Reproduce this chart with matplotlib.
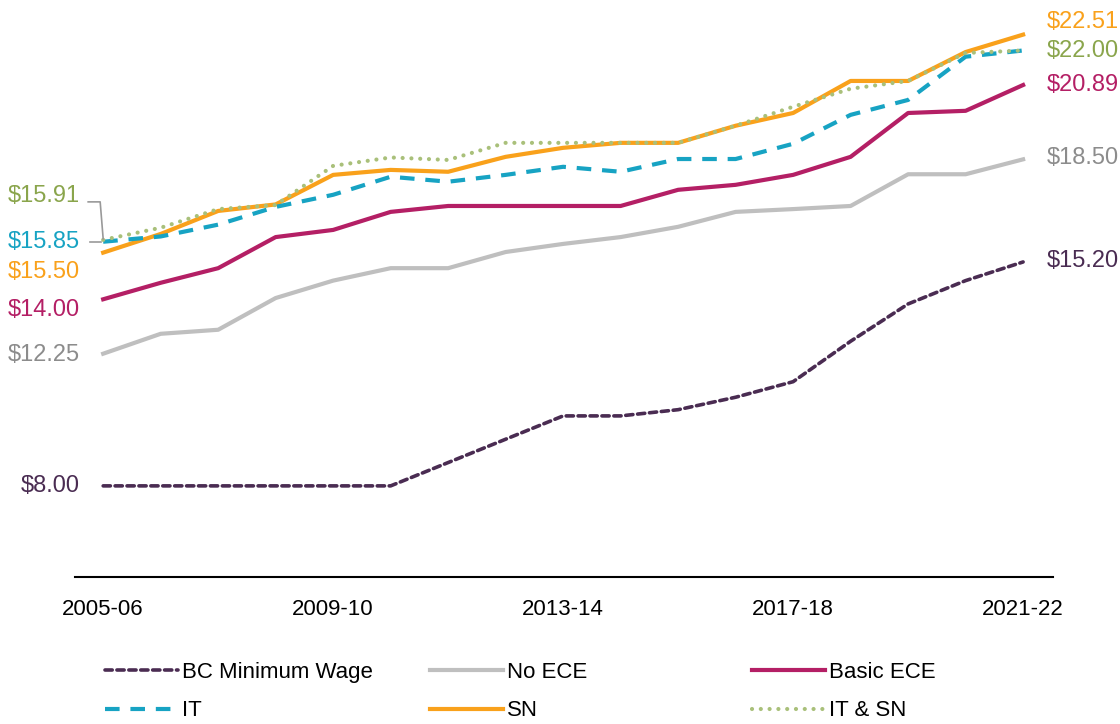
import numpy as np
import matplotlib.pyplot as plt
from matplotlib import font_manager

names = {f.name for f in font_manager.fontManager.ttflist}
fam = 'Liberation Sans Narrow' if 'Liberation Sans Narrow' in names else 'Liberation Sans'
plt.rcParams['font.family'] = [fam, 'DejaVu Sans']

years = ['2005-06', '2006-07', '2007-08', '2008-09', '2009-10', '2010-11', '2011-12',
         '2012-13', '2013-14', '2014-15', '2015-16', '2016-17', '2017-18', '2018-19',
         '2019-20', '2020-21', '2021-22']
min_wage = [8.00, 8.00, 8.00, 8.00, 8.00, 8.00, 8.75, 9.50, 10.25, 10.25, 10.45, 10.85,
            11.35, 12.65, 13.85, 14.60, 15.20]
no_ece = [12.25, 12.89, 13.02, 14.04, 14.60, 15.00, 15.00, 15.52, 15.78, 16.00, 16.33,
          16.81, 16.90, 17.00, 18.02, 18.02, 18.50]
basic_ece = [14.00, 14.53, 15.00, 16.00, 16.23, 16.81, 17.00, 17.00, 17.00, 17.00, 17.52,
             17.68, 18.00, 18.58, 19.99, 20.06, 20.89]
it = [15.85, 16.02, 16.40, 16.97, 17.36, 17.94, 17.78, 18.00, 18.26, 18.10, 18.51,
      18.51, 19.00, 19.93, 20.41, 21.80, 22.00]
sn = [15.50, 16.10, 16.84, 17.05, 18.00, 18.16, 18.10, 18.58, 18.87, 19.03, 19.03,
      19.58, 19.99, 21.02, 21.02, 21.95, 22.51]
it_sn = [15.91, 16.30, 16.90, 17.03, 18.29, 18.56, 18.48, 19.03, 19.03, 19.03, 19.03,
         19.58, 20.19, 20.77, 21.02, 21.92, 22.00]

c_mw = '#4a2c52'
c_no = '#bfbfbf'
c_basic = '#b41f65'
c_it = '#17a3c3'
c_sn = '#f9a11b'
c_itsn = '#a9c07a'
c_itsn_txt = '#8aa54c'
c_no_txt = '#8c8c8c'

x = np.arange(len(years))

fig = plt.figure(figsize=(11.2, 7.24), dpi=100)
ax = fig.add_axes([75/1120, 1 - 577/724, 978/1120, 557/724])

l_mw, = ax.plot(x, min_wage, color=c_mw, lw=2.6, dashes=(2.0, 1.3), dash_capstyle='round')
l_no, = ax.plot(x, no_ece, color=c_no, lw=3)
l_basic, = ax.plot(x, basic_ece, color=c_basic, lw=3)
l_sn, = ax.plot(x, sn, color=c_sn, lw=3)
l_it, = ax.plot(x, it, color=c_it, lw=3, dashes=(3.5, 2.6))
l_itsn, = ax.plot(x, it_sn, color=c_itsn, lw=3, dashes=(0.01, 2.1), dash_capstyle='round')

ax.set_xlim(-0.49, 16.52)
ax.set_ylim(5.07, 22.98)
ax.set_xticks(x[::4])
ax.set_xticklabels(years[::4], fontsize=16)
ax.tick_params(axis='x', length=0, pad=16)
ax.set_yticks([])
for s in ['top', 'right', 'left']:
    ax.spines[s].set_visible(False)
ax.spines['bottom'].set_color('black')
ax.spines['bottom'].set_linewidth(1.5)

fs = 17
# left labels (value, colour, vertical offset in px)
left = [(it_sn[0], c_itsn_txt, 44), (it[0], c_it, 0), (sn[0], c_sn, -19),
        (basic_ece[0], c_basic, -11), (no_ece[0], c_no_txt, -1), (min_wage[0], c_mw, 0)]
for v, c, dy in left:
    ax.annotate(f'${v:.2f}', xy=(0, v), xytext=(-23, dy), textcoords='offset pixels',
                ha='right', va='center', color=c, fontsize=fs)

right = [(sn[-1], c_sn, 13), (it_sn[-1], c_itsn_txt, -1), (basic_ece[-1], c_basic, 0),
         (no_ece[-1], c_no_txt, 1), (min_wage[-1], c_mw, 1)]
for v, c, dy in right:
    ax.annotate(f'${v:.2f}', xy=(16, v), xytext=(24, dy), textcoords='offset pixels',
                ha='left', va='center', color=c, fontsize=fs)

# leader lines
inv = ax.transData.inverted()
p0 = ax.transData.transform((0, it_sn[0]))
pts = inv.transform([p0 + (-15, 38), p0 + (-3, 38), p0 + (0, 1)])
ax.plot(pts[:, 0], pts[:, 1], color='#999999', lw=1.2, clip_on=False)
p1 = ax.transData.transform((0, it[0]))
pts = inv.transform([p1 + (-13, 0), p1 + (-2, 0)])
ax.plot(pts[:, 0], pts[:, 1], color='#999999', lw=1.2, clip_on=False)

# legend: three columns
cols = [([l_mw, l_it], ['BC Minimum Wage', 'IT'], 105),
        ([l_no, l_sn], ['No ECE', 'SN'], 430),
        ([l_basic, l_itsn], ['Basic ECE', 'IT & SN'], 752)]
for hs, labs, px in cols:
    fig.legend(hs, labs, loc='upper left', bbox_to_anchor=(px/1120, 1 - 662/724),
               frameon=False, fontsize=16, handlelength=3.3, handletextpad=0.15,
               labelspacing=0.78, borderpad=0, borderaxespad=0)

fig.savefig('out.png', dpi=100)
